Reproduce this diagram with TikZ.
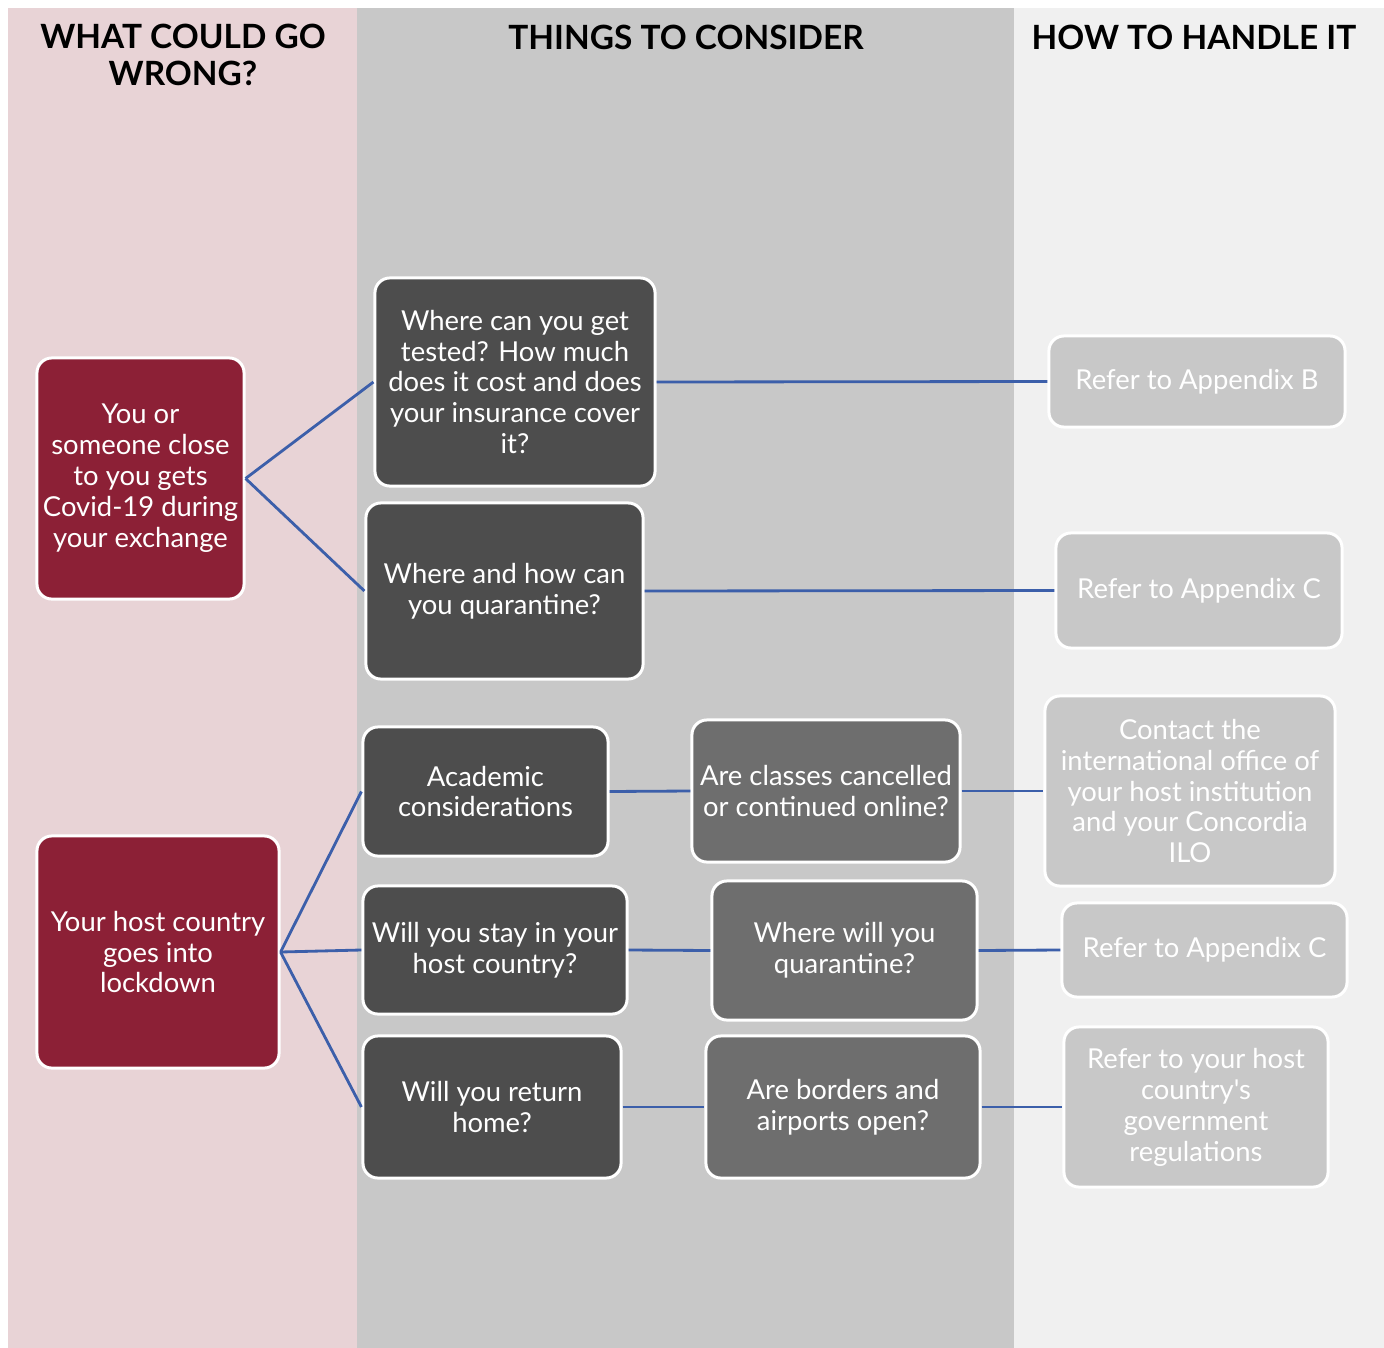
\documentclass[tikz,border=0pt]{standalone}
\usepackage{fontspec}
\setmainfont{Lato}
\newfontfamily\boxfont{Lato}
\definecolor{wrongbg}{HTML}{E8D3D6}
\definecolor{considerbg}{HTML}{C8C8C8}
\definecolor{handlebg}{HTML}{F0F0F0}
\definecolor{riskred}{HTML}{8C2036}
\definecolor{askdark}{HTML}{4D4D4D}
\definecolor{askmid}{HTML}{6E6E6E}
\definecolor{linkblue}{HTML}{3C5FAA}

\begin{document}
\begin{tikzpicture}[x=0.01cm,y=-0.01cm,
	box/.style={draw=white,line width=0.85pt,rounded corners=0.15cm,text=white,
		align=center,inner sep=0pt,font=\boxfont\fontsize{7.8}{8.8}\selectfont},
	riskbox/.style={box,fill=riskred},
	askbox/.style={box,fill=askdark},
	subbox/.style={box,fill=askmid},
	handlebox/.style={box,fill=considerbg},
	head/.style={align=center,font=\bfseries\fontsize{9.5}{10.5}\selectfont},
	link/.style={draw=linkblue,line width=0.8pt}]
	% columns
	\fill[white] (0,0) rectangle (1384,1348);
	\fill[wrongbg] (8,8) rectangle (357,1348);
	\fill[considerbg] (357,8) rectangle (1014,1348);
	\fill[handlebg] (1014,8) rectangle (1384,1348);
	\node[head] (hwrong) at (183,55) {WHAT COULD GO\\WRONG?};
	\node[head] (hconsider) at (686,37) {THINGS TO CONSIDER};
	\node[head] (hhandle) at (1194,37) {HOW TO HANDLE IT};
	% what could go wrong
	\node[riskbox,minimum width=2.07cm,minimum height=2.41cm] (covid) at (140.5,478.5)
		{You or\\someone close\\to you gets\\Covid-19 during\\your exchange};
	\node[riskbox,minimum width=2.42cm,minimum height=2.32cm] (lockdown) at (158,952)
		{Your host country\\goes into\\lockdown};
	% things to consider
	\node[askbox,minimum width=2.80cm,minimum height=2.08cm] (tested) at (515,382)
		{Where can you get\\tested? How much\\does it cost and does\\your insurance cover\\it?};
	\node[askbox,minimum width=2.77cm,minimum height=1.76cm] (quarantine) at (504.5,591)
		{Where and how can\\you quarantine?};
	\node[askbox,minimum width=2.45cm,minimum height=1.29cm] (academic) at (485.5,791.5)
		{Academic\\considerations};
	\node[askbox,minimum width=2.64cm,minimum height=1.28cm] (stay) at (495,950)
		{Will you stay in your\\host country?};
	\node[askbox,minimum width=2.58cm,minimum height=1.42cm] (return) at (492,1107)
		{Will you return\\home?};
	\node[subbox,minimum width=2.68cm,minimum height=1.42cm] (classes) at (826,791)
		{Are classes cancelled\\or continued online?};
	\node[subbox,minimum width=2.65cm,minimum height=1.39cm] (wherequar) at (844.5,950.5)
		{Where will you\\quarantine?};
	\node[subbox,minimum width=2.74cm,minimum height=1.42cm] (borders) at (843,1107)
		{Are borders and\\airports open?};
	% how to handle it
	\node[handlebox,minimum width=2.96cm,minimum height=0.91cm] (appB) at (1197,381.5)
		{Refer to Appendix B};
	\node[handlebox,minimum width=2.86cm,minimum height=1.15cm] (appC) at (1199,590.5)
		{Refer to Appendix C};
	\node[handlebox,minimum width=2.90cm,minimum height=1.90cm] (ilo) at (1190,791)
		{Contact the\\international office of\\your host institution\\and your Concordia\\ILO};
	\node[handlebox,minimum width=2.85cm,minimum height=0.94cm] (appCb) at (1204.5,950)
		{Refer to Appendix C};
	\node[handlebox,minimum width=2.64cm,minimum height=1.60cm] (regs) at (1196,1107)
		{Refer to your host\\country's\\government\\regulations};
	% links
	\draw[link] (covid.east) -- (tested.west);
	\draw[link] (covid.east) -- (quarantine.west);
	\draw[link] (tested.east) -- (appB.west);
	\draw[link] (quarantine.east) -- (appC.west);
	\draw[link] (lockdown.east) -- (academic.west);
	\draw[link] (lockdown.east) -- (stay.west);
	\draw[link] (lockdown.east) -- (return.west);
	\draw[link] (academic.east) -- (classes.west);
	\draw[link] (classes.east) -- (ilo.west);
	\draw[link] (stay.east) -- (wherequar.west);
	\draw[link] (wherequar.east) -- (appCb.west);
	\draw[link] (return.east) -- (borders.west);
	\draw[link] (borders.east) -- (regs.west);
\end{tikzpicture}
\end{document}
